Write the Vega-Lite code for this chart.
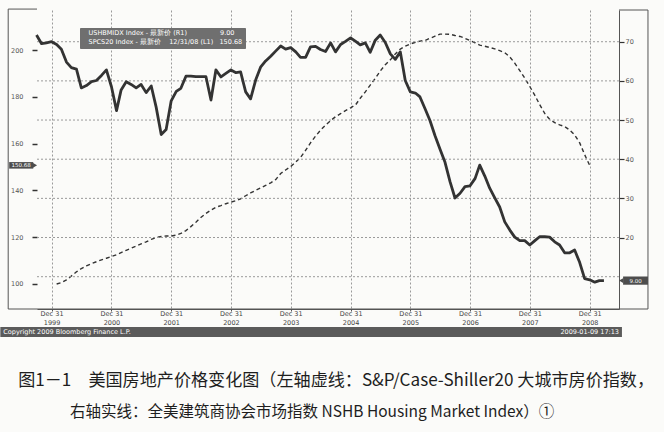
{
  "$schema": "https://vega.github.io/schema/vega-lite/v6.json",
  "width": 582,
  "height": 299,
  "autosize": {"type": "none"},
  "padding": {"left": 37, "top": 10, "right": 45, "bottom": 123},
  "background": "#fbfbf9",
  "config": {"view": {"stroke": null}, "font": "DejaVu Sans"},
  "datasets": {
    "m": [
      {"d": "1999-09-30", "h": 71.7},
      {"d": "1999-10-31", "h": 69.5},
      {"d": "1999-11-30", "h": 69.7},
      {"d": "1999-12-31", "h": 70.0},
      {"d": "2000-01-31", "h": 69.3, "s": 100.0},
      {"d": "2000-02-29", "h": 68.1, "s": 100.6},
      {"d": "2000-03-31", "h": 64.8, "s": 101.7},
      {"d": "2000-04-30", "h": 63.4, "s": 103.4},
      {"d": "2000-05-31", "h": 63.0, "s": 105.2},
      {"d": "2000-06-30", "h": 58.2, "s": 106.6},
      {"d": "2000-07-31", "h": 58.8, "s": 107.7},
      {"d": "2000-08-31", "h": 59.8, "s": 108.7},
      {"d": "2000-09-30", "h": 60.1, "s": 109.5},
      {"d": "2000-10-31", "h": 61.4, "s": 110.3},
      {"d": "2000-11-30", "h": 62.8, "s": 111.0},
      {"d": "2000-12-31", "h": 58.5, "s": 111.7},
      {"d": "2001-01-31", "h": 52.4, "s": 112.5},
      {"d": "2001-02-28", "h": 57.7, "s": 113.4},
      {"d": "2001-03-31", "h": 59.8, "s": 114.4},
      {"d": "2001-04-30", "h": 59.1, "s": 115.3},
      {"d": "2001-05-31", "h": 58.2, "s": 116.2},
      {"d": "2001-06-30", "h": 59.1, "s": 117.1},
      {"d": "2001-07-31", "h": 57.0, "s": 118.0},
      {"d": "2001-08-31", "h": 58.7, "s": 119.1},
      {"d": "2001-09-30", "h": 53.3, "s": 119.8},
      {"d": "2001-10-31", "h": 46.3, "s": 120.3},
      {"d": "2001-11-30", "h": 47.6, "s": 120.5},
      {"d": "2001-12-31", "h": 54.9, "s": 120.5},
      {"d": "2002-01-31", "h": 57.3, "s": 120.9},
      {"d": "2002-02-28", "h": 58.1, "s": 121.6},
      {"d": "2002-03-31", "h": 61.2, "s": 122.8},
      {"d": "2002-04-30", "h": 61.2, "s": 124.5},
      {"d": "2002-05-31", "h": 61.1, "s": 126.4},
      {"d": "2002-06-30", "h": 61.1, "s": 128.4},
      {"d": "2002-07-31", "h": 61.1, "s": 130.1},
      {"d": "2002-08-31", "h": 55.1, "s": 131.6},
      {"d": "2002-09-30", "h": 62.8, "s": 132.8},
      {"d": "2002-10-31", "h": 61.0, "s": 133.5},
      {"d": "2002-11-30", "h": 61.9, "s": 134.3},
      {"d": "2002-12-31", "h": 62.8, "s": 135.0},
      {"d": "2003-01-31", "h": 62.1, "s": 135.6},
      {"d": "2003-02-28", "h": 62.3, "s": 136.4},
      {"d": "2003-03-31", "h": 57.2, "s": 137.7},
      {"d": "2003-04-30", "h": 55.4, "s": 138.9},
      {"d": "2003-05-31", "h": 60.2, "s": 140.0},
      {"d": "2003-06-30", "h": 63.5, "s": 141.0},
      {"d": "2003-07-31", "h": 65.1, "s": 142.1},
      {"d": "2003-08-31", "h": 66.3, "s": 143.2},
      {"d": "2003-09-30", "h": 67.6, "s": 144.6},
      {"d": "2003-10-31", "h": 68.9, "s": 147.2},
      {"d": "2003-11-30", "h": 68.1, "s": 148.7},
      {"d": "2003-12-31", "h": 68.5, "s": 150.2},
      {"d": "2004-01-31", "h": 67.4, "s": 152.1},
      {"d": "2004-02-29", "h": 66.0, "s": 154.1},
      {"d": "2004-03-31", "h": 66.0, "s": 157.1},
      {"d": "2004-04-30", "h": 68.7, "s": 160.3},
      {"d": "2004-05-31", "h": 68.8, "s": 163.2},
      {"d": "2004-06-30", "h": 68.0, "s": 165.7},
      {"d": "2004-07-31", "h": 67.5, "s": 167.9},
      {"d": "2004-08-31", "h": 69.7, "s": 169.8},
      {"d": "2004-09-30", "h": 67.4, "s": 171.5},
      {"d": "2004-10-31", "h": 69.3, "s": 172.8},
      {"d": "2004-11-30", "h": 70.1, "s": 174.1},
      {"d": "2004-12-31", "h": 71.0, "s": 175.3},
      {"d": "2005-01-31", "h": 70.1, "s": 176.6},
      {"d": "2005-02-28", "h": 69.2, "s": 179.4},
      {"d": "2005-03-31", "h": 69.7, "s": 182.1},
      {"d": "2005-04-30", "h": 67.3, "s": 185.0},
      {"d": "2005-05-31", "h": 70.4, "s": 187.9},
      {"d": "2005-06-30", "h": 71.7, "s": 191.0},
      {"d": "2005-07-31", "h": 69.8, "s": 193.7},
      {"d": "2005-08-31", "h": 66.9, "s": 195.8},
      {"d": "2005-09-30", "h": 65.5, "s": 198.3},
      {"d": "2005-10-31", "h": 67.4, "s": 200.4},
      {"d": "2005-11-30", "h": 60.1, "s": 201.6},
      {"d": "2005-12-31", "h": 57.2, "s": 202.6},
      {"d": "2006-01-31", "h": 56.9, "s": 203.3},
      {"d": "2006-02-28", "h": 55.9, "s": 203.8},
      {"d": "2006-03-31", "h": 52.9, "s": 204.1},
      {"d": "2006-04-30", "h": 49.9, "s": 205.0},
      {"d": "2006-05-31", "h": 46.0, "s": 205.9},
      {"d": "2006-06-30", "h": 42.6, "s": 206.8},
      {"d": "2006-07-31", "h": 39.2, "s": 206.8},
      {"d": "2006-08-31", "h": 34.2, "s": 206.7},
      {"d": "2006-09-30", "h": 30.1, "s": 206.2},
      {"d": "2006-10-31", "h": 31.3, "s": 205.8},
      {"d": "2006-11-30", "h": 33.0, "s": 205.0},
      {"d": "2006-12-31", "h": 33.2, "s": 204.0},
      {"d": "2007-01-31", "h": 35.1, "s": 203.1},
      {"d": "2007-02-28", "h": 38.5, "s": 202.1},
      {"d": "2007-03-31", "h": 35.7, "s": 201.6},
      {"d": "2007-04-30", "h": 32.6, "s": 201.1},
      {"d": "2007-05-31", "h": 30.1, "s": 200.5},
      {"d": "2007-06-30", "h": 27.8, "s": 199.7},
      {"d": "2007-07-31", "h": 24.0, "s": 198.9},
      {"d": "2007-08-31", "h": 21.9, "s": 197.0},
      {"d": "2007-09-30", "h": 20.1, "s": 194.4},
      {"d": "2007-10-31", "h": 19.2, "s": 191.2},
      {"d": "2007-11-30", "h": 19.2, "s": 188.0},
      {"d": "2007-12-31", "h": 18.1, "s": 184.4},
      {"d": "2008-01-31", "h": 19.2, "s": 180.6},
      {"d": "2008-02-29", "h": 20.2, "s": 176.7},
      {"d": "2008-03-31", "h": 20.2, "s": 172.9},
      {"d": "2008-04-30", "h": 20.1, "s": 170.4},
      {"d": "2008-05-31", "h": 18.9, "s": 169.0},
      {"d": "2008-06-30", "h": 18.1, "s": 168.0},
      {"d": "2008-07-31", "h": 16.1, "s": 167.3},
      {"d": "2008-08-31", "h": 16.1, "s": 165.8},
      {"d": "2008-09-30", "h": 16.8, "s": 163.7},
      {"d": "2008-10-31", "h": 13.6, "s": 160.3},
      {"d": "2008-11-30", "h": 9.5, "s": 155.3},
      {"d": "2008-12-31", "h": 9.2, "s": 150.68},
      {"d": "2009-01-31", "h": 8.6},
      {"d": "2009-02-28", "h": 9.0},
      {"d": "2009-03-28", "h": 9.0}
    ]
  },
  "layer": [
    {
      "layer": [
        {
          "data": {"name": "m"},
          "mark": {"type": "line", "strokeDash": [4, 3], "strokeWidth": 1.4},
          "encoding": {
            "x": {
              "field": "d", "type": "temporal", "title": null,
              "scale": {"type": "utc", "domain": [{"year": 1999, "month": 10, "date": 3, "utc": true}, {"year": 2009, "month": 6, "date": 28, "utc": true}]},
              "axis": {
                "values": [
                  {"year": 1999, "month": 12, "date": 31, "utc": true},
                  {"year": 2000, "month": 12, "date": 31, "utc": true},
                  {"year": 2001, "month": 12, "date": 31, "utc": true},
                  {"year": 2002, "month": 12, "date": 31, "utc": true},
                  {"year": 2003, "month": 12, "date": 31, "utc": true},
                  {"year": 2004, "month": 12, "date": 31, "utc": true},
                  {"year": 2005, "month": 12, "date": 31, "utc": true},
                  {"year": 2006, "month": 12, "date": 31, "utc": true},
                  {"year": 2007, "month": 12, "date": 31, "utc": true},
                  {"year": 2008, "month": 12, "date": 31, "utc": true}
                ],
                "labelExpr": "['Dec 31', utcFormat(datum.value, '%Y')]",
                "labelOverlap": false, "labelFlush": false,
                "grid": true, "gridColor": "#9a9a9a", "gridDash": [2, 2], "gridWidth": 1,
                "domain": true, "domainColor": "#555555",
                "tickSize": 2, "tickColor": "#555555",
                "labelFont": "DejaVu Sans", "labelFontSize": 6.5, "labelColor": "#444444",
                "labelPadding": -1, "labelLineHeight": 9
              }
            },
            "y": {
              "field": "s", "type": "quantitative", "title": null,
              "scale": {"domain": [89.3, 217.1], "nice": false, "zero": false},
              "axis": {
                "orient": "left",
                "values": [100, 110, 120, 130, 140, 150, 160, 170, 180, 190, 200, 210],
                "format": "d",
                "labelExpr": "datum.value % 20 === 0 ? datum.label : ''",
                "labelOverlap": false,
                "domain": false, "grid": false,
                "tickSize": {"condition": {"test": "datum.value % 20 === 0", "value": 5}, "value": 1.5},
                "tickWidth": 1.5, "tickColor": "#333333",
                "labelPadding": 9,
                "labelFont": "DejaVu Sans", "labelFontSize": 6.5, "labelColor": "#555555"
              }
            },
            "color": {
              "datum": "SPCS20 Index", "type": "nominal",
              "scale": {"domain": ["USHBMIDX Index", "SPCS20 Index"], "range": ["#333333", "#333333"]},
              "legend": {
                "orient": "none", "legendX": 43, "legendY": 18, "title": null,
                "fillColor": "#6f6f6f", "strokeColor": "#6f6f6f", "padding": 2, "rowPadding": 2,
                "labelColor": "#ffffff", "labelFont": "DejaVu Sans", "labelFontSize": 6.5, "labelLimit": 400,
                "symbolSize": 0, "symbolOpacity": 0, "symbolStrokeWidth": 0, "labelOffset": 0,
                "labelExpr": "datum.label == 'USHBMIDX Index' ? 'USHBMIDX Index - 最新价 (R1)\u2007\u2007\u2007\u2007\u2007\u2007\u2007\u20079.00' : 'SPCS20 Index - 最新价 \u2007 12/31/08 (L1) \u2007150.68'"
              }
            }
          }
        },
        {
          "data": {"values": [{}]},
          "mark": {"type": "rule", "color": "#555555", "strokeWidth": 1},
          "encoding": {
            "x": {"datum": {"year": 1999, "month": 4, "date": 10, "utc": true}, "type": "temporal", "title": null},
            "y": {"datum": 217.5, "type": "quantitative", "title": null},
            "y2": {"datum": 89.3}
          }
        },
        {
          "data": {"values": [{}]},
          "mark": {"type": "rule", "color": "#555555", "strokeWidth": 1},
          "encoding": {
            "x": {"datum": {"year": 1999, "month": 4, "date": 10, "utc": true}, "type": "temporal", "title": null},
            "x2": {"datum": {"year": 1999, "month": 10, "date": 3, "utc": true}},
            "y": {"datum": 217.5, "type": "quantitative", "title": null}
          }
        },
        {
          "data": {"values": [{}]},
          "mark": {"type": "rule", "color": "#555555", "strokeWidth": 1},
          "encoding": {
            "x": {"datum": {"year": 2009, "month": 12, "date": 22, "utc": true}, "type": "temporal", "title": null},
            "y": {"datum": 217.1, "type": "quantitative", "title": null},
            "y2": {"datum": 89.3}
          }
        },
        {
          "data": {"values": [{}]},
          "mark": {"type": "rule", "color": "#555555", "strokeWidth": 1},
          "encoding": {
            "x": {"datum": {"year": 2009, "month": 6, "date": 28, "utc": true}, "type": "temporal", "title": null},
            "x2": {"datum": {"year": 2009, "month": 12, "date": 22, "utc": true}},
            "y": {"datum": 217.1, "type": "quantitative", "title": null}
          }
        },
        {
          "data": {"values": [{}]},
          "mark": {"type": "rule", "color": "#555555", "strokeWidth": 1},
          "encoding": {
            "x": {"datum": {"year": 1999, "month": 4, "date": 10, "utc": true}, "type": "temporal", "title": null},
            "x2": {"datum": {"year": 2009, "month": 12, "date": 22, "utc": true}},
            "y": {"datum": 89.3, "type": "quantitative", "title": null}
          }
        },
        {
          "data": {"values": [{}]},
          "mark": {"type": "rect", "color": "#5b5b5b"},
          "encoding": {
            "x": {"datum": {"year": 1999, "month": 2, "date": 21, "utc": true}, "type": "temporal", "title": null},
            "x2": {"datum": {"year": 2009, "month": 7, "date": 16, "utc": true}},
            "y": {"datum": 81.6, "type": "quantitative", "title": null},
            "y2": {"datum": 77.35}
          }
        },
        {
          "data": {"values": [{"label": "Copyright 2009 Bloomberg Finance L.P."}]},
          "mark": {"type": "text", "align": "left", "baseline": "middle", "color": "#ffffff", "fontSize": 6.5, "font": "DejaVu Sans"},
          "encoding": {
            "x": {"datum": {"year": 1999, "month": 3, "date": 11, "utc": true}, "type": "temporal", "title": null},
            "y": {"datum": 79.5, "type": "quantitative", "title": null},
            "text": {"field": "label"}
          }
        },
        {
          "data": {"values": [{"label": "2009-01-09 17:13"}]},
          "mark": {"type": "text", "align": "right", "baseline": "middle", "color": "#ffffff", "fontSize": 6.5, "font": "DejaVu Sans"},
          "encoding": {
            "x": {"datum": {"year": 2009, "month": 6, "date": 28, "utc": true}, "type": "temporal", "title": null},
            "y": {"datum": 79.5, "type": "quantitative", "title": null},
            "text": {"field": "label"}
          }
        },
        {
          "data": {"values": [{}]},
          "mark": {"type": "rect", "color": "#4d4d4d"},
          "encoding": {
            "x": {"datum": {"year": 1999, "month": 4, "date": 16, "utc": true}, "type": "temporal", "title": null},
            "x2": {"datum": {"year": 1999, "month": 9, "date": 10, "utc": true}},
            "y": {"datum": 152.1, "type": "quantitative", "title": null},
            "y2": {"datum": 149.3}
          }
        },
        {
          "data": {"values": [{}]},
          "mark": {"type": "point", "shape": "triangle-right", "filled": true, "color": "#4d4d4d", "size": 22, "opacity": 1},
          "encoding": {
            "x": {"datum": {"year": 1999, "month": 9, "date": 21, "utc": true}, "type": "temporal", "title": null},
            "y": {"datum": 150.7, "type": "quantitative", "title": null}
          }
        },
        {
          "data": {"values": [{"label": "150.68"}]},
          "mark": {"type": "text", "align": "center", "baseline": "middle", "color": "#ffffff", "fontSize": 5.5, "font": "DejaVu Sans"},
          "encoding": {
            "x": {"datum": {"year": 1999, "month": 6, "date": 28, "utc": true}, "type": "temporal", "title": null},
            "y": {"datum": 150.7, "type": "quantitative", "title": null},
            "text": {"field": "label"}
          }
        },
        {
          "data": {"values": [{"label": "图1－1　美国房地产价格变化图（左轴虚线：S&P/Case-Shiller20 大城市房价指数，"}]},
          "mark": {"type": "text", "align": "left", "baseline": "middle", "color": "#1e1e1e", "fontSize": 17.1, "font": "Noto Sans CJK SC"},
          "encoding": {
            "x": {"datum": {"year": 1999, "month": 6, "date": 10, "utc": true}, "type": "temporal", "title": null},
            "y": {"datum": 58.55, "type": "quantitative", "title": null},
            "text": {"field": "label"}
          }
        },
        {
          "data": {"values": [{"label": "右轴实线：全美建筑商协会市场指数 NSHB Housing Market Index）①"}]},
          "mark": {"type": "text", "align": "left", "baseline": "middle", "color": "#1e1e1e", "fontSize": 15.5, "font": "Noto Sans CJK SC"},
          "encoding": {
            "x": {"datum": {"year": 2000, "month": 4, "date": 22, "utc": true}, "type": "temporal", "title": null},
            "y": {"datum": 45.3, "type": "quantitative", "title": null},
            "text": {"field": "label"}
          }
        }
      ]
    },
    {
      "layer": [
        {
          "data": {"values": [{"g": 10}, {"g": 20}, {"g": 30}, {"g": 40}, {"g": 50}, {"g": 60}, {"g": 70}]},
          "mark": {"type": "rule", "color": "#9a9a9a", "strokeDash": [2, 2], "strokeWidth": 1},
          "encoding": {
            "y": {"field": "g", "type": "quantitative", "title": null}
          }
        },
        {
          "data": {"name": "m"},
          "mark": {"type": "line", "strokeWidth": 2.8, "strokeJoin": "round"},
          "encoding": {
            "x": {"field": "d", "type": "temporal", "title": null},
            "y": {
              "field": "h", "type": "quantitative", "title": null,
              "scale": {"domain": [1.75, 78.1], "nice": false, "zero": false},
              "axis": {
                "orient": "right",
                "values": [20, 30, 40, 50, 60, 70],
                "format": "d",
                "labelOverlap": false,
                "domain": true, "domainColor": "#555555",
                "grid": false,
                "tickSize": 5, "tickColor": "#333333", "tickWidth": 1.2,
                "labelPadding": 1,
                "labelFont": "DejaVu Sans", "labelFontSize": 6.5, "labelColor": "#555555"
              }
            },
            "color": {"datum": "USHBMIDX Index", "type": "nominal"}
          }
        },
        {
          "data": {"values": [{}]},
          "mark": {"type": "rect", "color": "#4d4d4d"},
          "encoding": {
            "x": {"datum": {"year": 2009, "month": 7, "date": 23, "utc": true}, "type": "temporal", "title": null},
            "x2": {"datum": {"year": 2009, "month": 12, "date": 22, "utc": true}},
            "y": {"datum": 10.05, "type": "quantitative", "title": null},
            "y2": {"datum": 7.95}
          }
        },
        {
          "data": {"values": [{}]},
          "mark": {"type": "point", "shape": "triangle-left", "filled": true, "color": "#4d4d4d", "size": 22, "opacity": 1},
          "encoding": {
            "x": {"datum": {"year": 2009, "month": 7, "date": 11, "utc": true}, "type": "temporal", "title": null},
            "y": {"datum": 9.0, "type": "quantitative", "title": null}
          }
        },
        {
          "data": {"values": [{"label": "9.00"}]},
          "mark": {"type": "text", "align": "center", "baseline": "middle", "color": "#ffffff", "fontSize": 5.5, "font": "DejaVu Sans"},
          "encoding": {
            "x": {"datum": {"year": 2009, "month": 10, "date": 7, "utc": true}, "type": "temporal", "title": null},
            "y": {"datum": 9.0, "type": "quantitative", "title": null},
            "text": {"field": "label"}
          }
        }
      ]
    }
  ],
  "resolve": {"scale": {"y": "independent"}}
}
